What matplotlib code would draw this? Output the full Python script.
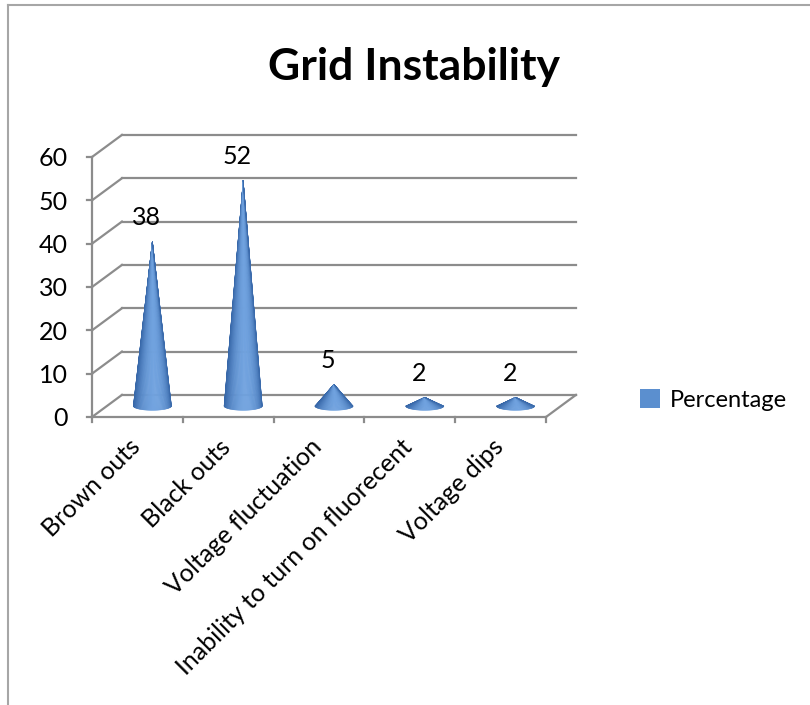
import numpy as np
import matplotlib
matplotlib.use("Agg")
import matplotlib.pyplot as plt
from matplotlib.patches import Polygon, Patch
from matplotlib.lines import Line2D

plt.rcParams['font.family'] = ['Lato', 'DejaVu Sans']

# dati del grafico
categories = ["Brown outs", "Black outs", "Voltage fluctuation",
              "Inability to turn on fluorecent", "Voltage dips"]
percentage = [38, 52, 5, 2, 2]
y_ticks = [0, 10, 20, 30, 40, 50, 60]
series_name = "Percentage"
title = "Grid Instability"

# profondita' della vista 3D (in unita' dati)
DX = 0.33
DY = 5.1
GRID_COLOR = "#8c8c8c"
CONE_DARK = np.array([0x37, 0x67, 0xa8]) / 255
CONE_LIGHT = np.array([0x70, 0xa2, 0xdf]) / 255
FS = 18

fig = plt.figure(figsize=(8.1, 7.05), dpi=100)
ax = fig.add_axes([92 / 810, 288 / 705, 454 / 810, 260 / 705])
ax.set_xlim(-0.5, len(categories) - 0.5)
ax.set_ylim(0, 60)
ax.axis("off")

n = len(categories)
x_left, x_right = -0.5, n - 0.5

# pareti: griglia sul fondo e diagonali sul lato sinistro
for v in y_ticks:
    ax.plot([x_left + DX, x_right + DX], [v + DY, v + DY], color=GRID_COLOR, lw=1.6, clip_on=False, zorder=1)
    ax.plot([x_left, x_left + DX], [v, v + DY], color=GRID_COLOR, lw=1.6, clip_on=False, zorder=1)
    ax.plot([x_left - 0.055, x_left], [v, v], color=GRID_COLOR, lw=1.6, clip_on=False, zorder=1)
    ax.text(x_left - 0.27, v - 0.4, str(v), ha="right", va="center", fontsize=FS, color="black")

# asse verticale frontale e pavimento
ax.plot([x_left, x_left], [0, 60], color=GRID_COLOR, lw=1.6, clip_on=False, zorder=1)
ax.plot([x_left, x_right], [0, 0], color=GRID_COLOR, lw=1.6, clip_on=False, zorder=1)
ax.plot([x_right, x_right + DX], [0, DY], color=GRID_COLOR, lw=1.6, clip_on=False, zorder=1)
for k in range(n + 1):
    xb = x_left + k
    ax.plot([xb, xb], [0, -1.2], color=GRID_COLOR, lw=1.6, clip_on=False, zorder=1)

# coni con sfumatura
half_w = 0.21
ell_h = 1.0
thetas = np.linspace(-np.pi / 2, np.pi / 2, 60)
for i, val in enumerate(percentage):
    cx = i + DX / 2
    base = DY / 2
    tip = (cx, base + val)
    for t0, t1 in zip(thetas[:-1], thetas[1:]):
        tm = 0.5 * (t0 + t1)
        shade = np.clip(np.cos(tm - 0.15), 0, 1) ** 1.5
        col = CONE_DARK + (CONE_LIGHT - CONE_DARK) * shade
        p0 = (cx + half_w * np.sin(t0), base - ell_h * np.cos(t0))
        p1 = (cx + half_w * np.sin(t1), base - ell_h * np.cos(t1))
        ax.add_patch(Polygon([tip, p0, p1], closed=True, facecolor=col, edgecolor=col,
                             lw=0.4, clip_on=False, zorder=3))
    ax.text(cx - 0.065, base + val + 5.5, str(val), ha="center", va="center",
            fontsize=FS, color="black", zorder=4)

# etichette delle categorie
for i, name in enumerate(categories):
    ax.text(i - 0.1, -4.2, name, rotation=45, rotation_mode="anchor",
            ha="right", va="top", fontsize=FS, color="black")

fig.text(414 / 810, 1 - 67 / 705, title, ha="center", va="center",
         fontsize=32, fontweight="bold", color="black")

fig.legend(handles=[Patch(facecolor="#5b8fcf", edgecolor="none", label=series_name)],
           loc="center left", bbox_to_anchor=(619 / 810, 1 - 400 / 705), frameon=False,
           handlelength=0.85, handleheight=0.85, handletextpad=0.4, fontsize=17)

# cornice dell'area del grafico
fig.add_artist(Line2D([8 / 810, 1], [1 - 5 / 705, 1 - 5 / 705], color="#a6a6a6", lw=1.5))
fig.add_artist(Line2D([8 / 810, 8 / 810], [0, 1 - 5 / 705], color="#a6a6a6", lw=1.5))

fig.savefig("out.png", dpi=100)
